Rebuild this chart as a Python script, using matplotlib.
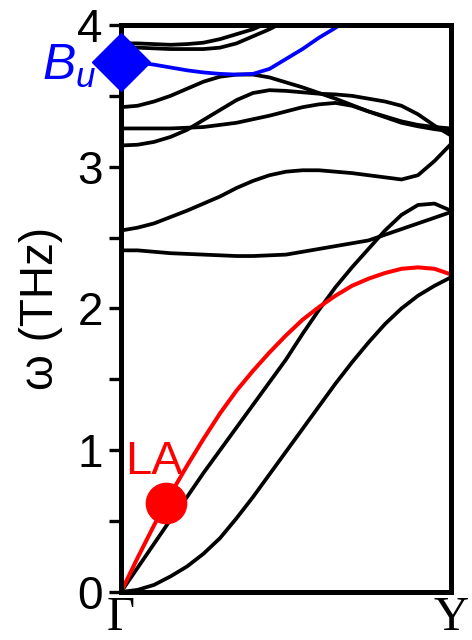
import matplotlib
matplotlib.use("Agg")
import matplotlib.pyplot as plt
from matplotlib.ticker import MultipleLocator

plt.rcParams['font.family'] = ['Liberation Sans', 'DejaVu Sans']
plt.rcParams['mathtext.fontset'] = 'custom'
plt.rcParams['mathtext.it'] = 'Liberation Sans:italic'
plt.rcParams['mathtext.rm'] = 'Liberation Sans'

# k-path from Gamma (0) to Y (1)
kpath = [0.0, 0.05, 0.1, 0.15, 0.2, 0.25, 0.3, 0.35, 0.4, 0.45, 0.5,
         0.55, 0.6, 0.65, 0.7, 0.75, 0.8, 0.85, 0.9, 0.95, 1.0]

# acoustic branches (THz)
za = [0, 0.015, 0.05, 0.11, 0.18, 0.27, 0.38, 0.52, 0.67, 0.83, 0.99,
      1.15, 1.31, 1.47, 1.62, 1.76, 1.89, 2.0, 2.09, 2.16, 2.22]
ta = [0, 0.17, 0.34, 0.51, 0.67, 0.84, 1.0, 1.16, 1.32, 1.48, 1.64,
      1.82, 1.99, 2.15, 2.29, 2.42, 2.55, 2.66, 2.73, 2.74, 2.69]
la = [0, 0.24, 0.47, 0.69, 0.89, 1.08, 1.26, 1.42, 1.56, 1.69, 1.81,
      1.92, 2.01, 2.09, 2.16, 2.21, 2.25, 2.28, 2.29, 2.28, 2.24]

# optical branches (THz)
opt1 = [2.41, 2.41, 2.40, 2.39, 2.385, 2.38, 2.375, 2.37, 2.37, 2.375, 2.38,
        2.40, 2.42, 2.44, 2.46, 2.48, 2.52, 2.56, 2.60, 2.64, 2.68]
opt2 = [2.55, 2.57, 2.60, 2.645, 2.69, 2.74, 2.79, 2.85, 2.90, 2.94, 2.965,
        2.975, 2.975, 2.965, 2.955, 2.94, 2.925, 2.91, 2.94, 3.04, 3.16]
opt3 = [3.15, 3.155, 3.175, 3.21, 3.26, 3.33, 3.40, 3.47, 3.52, 3.54, 3.535,
        3.525, 3.515, 3.51, 3.50, 3.48, 3.46, 3.43, 3.37, 3.29, 3.22]
opt4 = [3.27, 3.27, 3.27, 3.27, 3.275, 3.28, 3.295, 3.31, 3.335, 3.36, 3.39,
        3.42, 3.44, 3.45, 3.43, 3.39, 3.355, 3.32, 3.295, 3.28, 3.27]
opt5 = [3.42, 3.43, 3.46, 3.50, 3.55, 3.60, 3.635, 3.65, 3.65, 3.63, 3.595,
        3.56, 3.52, 3.48, 3.435, 3.39, 3.35, 3.31, 3.285, 3.265, 3.25]
opt6 = [3.87, 3.87, 3.865, 3.86, 3.865, 3.875, 3.90, 3.935, 3.97, 4.02]
opt7 = [3.84, 3.84, 3.835, 3.83, 3.83, 3.83, 3.84, 3.87, 3.92, 3.97, 4.03]
bu = [3.74, 3.735, 3.72, 3.70, 3.68, 3.665, 3.655, 3.65, 3.655, 3.69, 3.76,
      3.83, 3.91, 3.98, 4.06]

# highlighted modes
la_mark = (0.136, 0.628)
bu_mark = (0.0, 3.74)

fig = plt.figure(figsize=(4.72, 6.4), dpi=100)
ax = fig.add_axes([0.2564, 0.075, 0.699, 0.886])

lw = 2.7
for band in [za, ta, opt1, opt2, opt3, opt4, opt5]:
    ax.plot(kpath, band, color='black', lw=lw)
ax.plot(kpath[:len(opt6)], opt6, color='black', lw=lw)
ax.plot(kpath[:len(opt7)], opt7, color='black', lw=lw)
ax.plot(kpath, la, color='red', lw=2.9)
ax.plot(kpath[:len(bu)], bu, color='blue', lw=2.7)

ax.plot(*la_mark, marker='o', ms=29, color='red', zorder=5)
ax.plot(*bu_mark, marker='D', ms=30, color='blue', zorder=5, clip_on=False)

ax.text(0.012, 0.83, 'LA', color='red', fontsize=34, ha='left', va='baseline')
ax.text(-0.075, 3.71, '$B_u$', color='blue', fontsize=36, ha='right', va='center')

ax.set_xlim(0, 1)
ax.set_ylim(0, 4)
ax.set_xticks([0, 1])
ax.set_xticklabels(['Γ', 'Y'], family='Liberation Serif', fontsize=35)
ax.yaxis.set_major_locator(MultipleLocator(1))
ax.yaxis.set_minor_locator(MultipleLocator(0.5))
ax.tick_params(axis='x', length=0, pad=3)
ax.tick_params(axis='y', which='both', direction='out', length=9, width=2.4,
               labelsize=33, pad=4)
for s in ax.spines.values():
    s.set_linewidth(3.6)

ax.set_ylabel('ω (THz)', fontsize=33)
ax.yaxis.set_label_coords(-0.176, 0.5)

fig.savefig('out.png', dpi=100)
